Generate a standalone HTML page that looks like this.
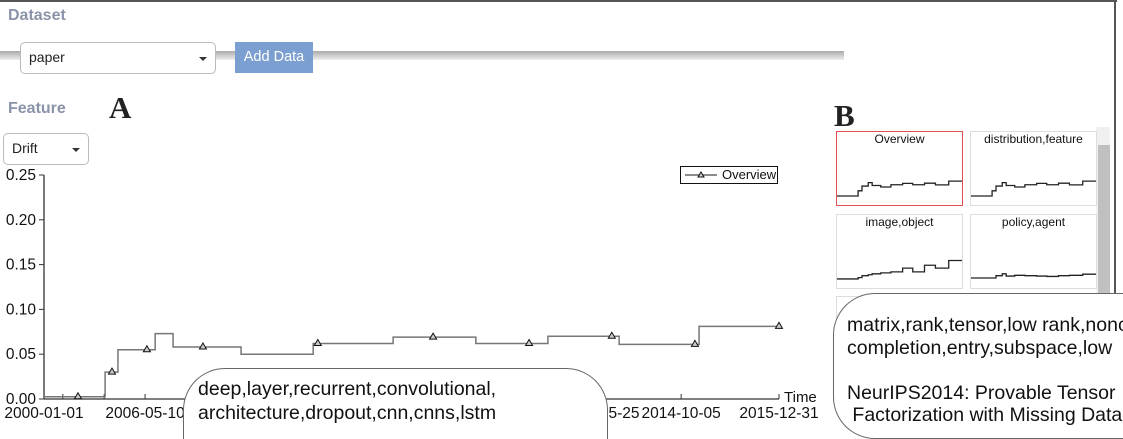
<!DOCTYPE html>
<html><head><meta charset="utf-8"><style>
html,body{margin:0;width:1123px;height:439px;overflow:hidden}
body{background:#fff;font-family:"Liberation Sans",sans-serif;position:relative}
.abs{position:absolute}
.hdr{color:#8a93a8;font-weight:bold;font-size:16px}
.sel{border:1px solid #bbb;border-radius:5px;background:#fff;font-size:14px;color:#222;box-sizing:border-box}
.caret{position:absolute;width:0;height:0;border-left:4px solid transparent;border-right:4px solid transparent;border-top:4px solid #333}
.big{font-family:"Liberation Serif",serif;font-weight:bold;font-size:31px;color:#222}
.thumb{position:absolute;border:1px solid #ddd;box-sizing:border-box;background:#fff;overflow:hidden}
.thumb span{position:absolute;top:0px;left:0;right:0;text-align:center;font-size:12px;color:#111}
.bubble{position:absolute;background:#fff;border:1.5px solid #666;font-size:19.5px;color:#111;line-height:23.5px;box-sizing:border-box;overflow:hidden}
</style></head><body>
<div class="abs" style="left:0;top:0;width:1117px;height:2px;background:#555"></div>
<div class="abs" style="left:1114px;top:0;width:2px;height:294px;background:#555"></div>
<div class="abs hdr" style="left:8px;top:7px">Dataset</div>
<div class="abs" style="left:0;top:51px;width:844px;height:9px;background:linear-gradient(#aaa,#eee)"></div>
<div class="abs sel" style="left:20px;top:42px;width:196px;height:32px;padding:6px 8px">paper<div class="caret" style="left:178px;top:14px"></div></div>
<div class="abs" style="left:235px;top:42px;width:78px;height:31px;background:#7b9fd0;color:#fff;font-size:14.5px;line-height:31px;text-align:center">Add Data</div>
<div class="abs hdr" style="left:8px;top:100px">Feature</div>
<div class="abs big" style="left:109px;top:90px">A</div>
<div class="abs big" style="left:834px;top:98px">B</div>
<div class="abs sel" style="left:3px;top:133px;width:86px;height:32px;padding:6px 8px">Drift<div class="caret" style="left:68px;top:14px"></div></div>

<svg class="abs" style="left:0;top:0" width="1123" height="439" id="chart"></svg>

<div class="abs" style="left:680px;top:166px;width:98px;height:18px;border:1.5px solid #111;box-sizing:border-box;background:#fff">
<svg width="40" height="16" style="position:absolute;left:2px;top:0"><line x1="2" y1="8" x2="34" y2="8" stroke="#666" stroke-width="1.5"/><path d="M18 5 L21 10 L15 10Z" fill="#ccc" stroke="#111"/></svg>
<span style="position:absolute;left:41px;top:0;font-size:13px;color:#111">Overview</span></div>

<div class="abs" style="left:1096px;top:127px;width:14px;height:168px;background:#f0f0f0"></div>
<div class="abs" style="left:1098px;top:145px;width:12px;height:150px;background:#c0c0c0"></div>
<div class="thumb" style="left:836px;top:131px;width:127px;height:75px;border-color:#e05050"><span>Overview</span><svg class="tsvg" width="125" height="73" style="position:absolute;left:0;top:0"></svg></div>
<div class="thumb" style="left:970px;top:131px;width:127px;height:75px"><span>distribution,feature</span><svg class="tsvg" width="125" height="73" style="position:absolute;left:0;top:0"></svg></div>
<div class="thumb" style="left:836px;top:214px;width:127px;height:75px"><span>image,object</span><svg class="tsvg2" width="125" height="73" style="position:absolute;left:0;top:0"></svg></div>
<div class="thumb" style="left:970px;top:214px;width:127px;height:75px"><span>policy,agent</span><svg class="tsvg3" width="125" height="73" style="position:absolute;left:0;top:0"></svg></div>
<div class="thumb" style="left:836px;top:296px;width:127px;height:60px"></div>

<div class="bubble" style="left:183px;top:368px;width:425px;height:71px;border-bottom:none;border-radius:42px 42px 0 0;padding:9px 0 0 14px">deep,layer,recurrent,convolutional,<br>architecture,dropout,cnn,cnns,lstm</div>
<div class="bubble" style="left:833px;top:293px;width:290px;height:146px;border-right:none;border-radius:42px 0 0 42px;padding:20px 0 0 13px;white-space:nowrap;line-height:22.5px">matrix,rank,tensor,low rank,nonconvex<br>completion,entry,subspace,low<br><br>NeurIPS2014: Provable Tensor<br>&nbsp;Factorization with Missing Data</div>

<script>
const stepEdges=[0,1.33,1.61,2.42,2.81,4.29,5.86,7.6,9.4,10.97,12.52,14.26,16];
const stepValues=[0.0025,0.03,0.055,0.073,0.058,0.05,0.062,0.069,0.062,0.07,0.061,0.081];
const markerT=[0.74,1.48,2.24,3.46,5.96,8.47,10.56,12.36,14.17,16];
const markerV=[0.0025,0.03,0.055,0.058,0.062,0.069,0.062,0.07,0.061,0.081];
const yTicks=[0,0.05,0.1,0.15,0.2,0.25];
const yTickLabels=["0.00","0.05","0.10","0.15","0.20","0.25"];
const xTickT=[0,0.41,1.31,2.2,12.1,13.87,16];
const xTickLabels=["2000-01-01","","","2006-05-10","2013-05-25","2014-10-05","2015-12-31"];
const thumbEdges=[0,2.7,3.2,4.0,4.5,5.6,6.9,8.4,9.7,11.2,12.6,14.3,16];
const imgValues=[0.003,0.01,0.02,0.025,0.03,0.035,0.04,0.06,0.04,0.075,0.06,0.1];
const polValues=[0.008,0.008,0.02,0.03,0.018,0.022,0.02,0.018,0.016,0.02,0.022,0.028];

const NS="http://www.w3.org/2000/svg";
const X0=44,X1=779,Y0=399,Y1=175;
const sx=t=>X0+(t-stepEdges[0])/(stepEdges[stepEdges.length-1]-stepEdges[0])*(X1-X0);
const sy=v=>Y0-(v/0.25)*(Y0-Y1);
const svg=document.getElementById('chart');
function mk(tag,attrs,parent){const e=document.createElementNS(NS,tag);for(const k in attrs)e.setAttribute(k,attrs[k]);(parent||svg).appendChild(e);return e;}
let e=mk('line',{x1:X0,y1:Y0,x2:X0,y2:Y1,stroke:'#333','stroke-width':1.3});


e=mk('line',{x1:X0,y1:Y0,x2:X1,y2:Y0,stroke:'#333','stroke-width':1.3});


yTicks.forEach((v,i)=>{
  mk('line',{x1:X0-5,x2:X0,y1:sy(v),y2:sy(v),stroke:'#333'});
  const t=mk('text',{x:36,y:sy(v)+5,'text-anchor':'end','font-size':15.5,fill:'#111'});
  t.textContent=yTickLabels[i];
  
  
});
xTickT.forEach((tt,i)=>{
  const x=sx(tt);
  mk('line',{x1:x,x2:x,y1:Y0,y2:Y0-5,stroke:'#333'});
  if(xTickLabels[i]){const t=mk('text',{x:x,y:Y0+19,'text-anchor':'middle','font-size':15.5,fill:'#111'});t.textContent=xTickLabels[i];
  
  }
});
const tl=mk('text',{x:784,y:402,'font-size':15,fill:'#111'});tl.textContent='Time';


function stepPath(edges,vals,fx,fy){let d='';vals.forEach((v,i)=>{d+=(i?'L':'M')+fx(edges[i])+' '+fy(v)+'L'+fx(edges[i+1])+' '+fy(v);});return d;}
const line=mk('path',{d:stepPath(stepEdges,stepValues,sx,sy),fill:'none',stroke:'#777','stroke-width':1.5});


markerT.forEach((tt,i)=>{const x=sx(tt),y=sy(markerV[i]);
  const m=mk('path',{d:`M${x} ${y-4}L${x+3.5} ${y+2}L${x-3.5} ${y+2}Z`,fill:'#ccc',stroke:'#111','stroke-width':1});
  
  
});
function thumb(el,vals){
  const fx=t=>t/16*125, fy=v=>64.5-v*190;
  const p=mk('path',{d:stepPath(thumbEdges,vals,fx,fy),fill:'none',stroke:'#222','stroke-width':1.3},el);
  
  
}
document.querySelectorAll('.tsvg').forEach(s=>thumb(s,stepValues));
document.querySelectorAll('.tsvg2').forEach(s=>thumb(s,imgValues));
document.querySelectorAll('.tsvg3').forEach(s=>thumb(s,polValues));
</script>
</body></html>
